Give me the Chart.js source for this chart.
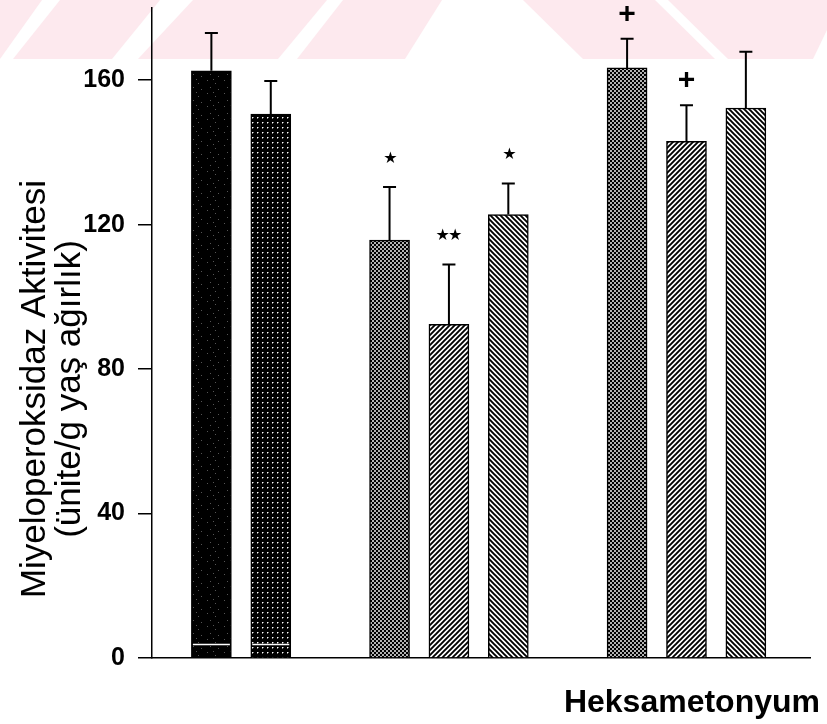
<!DOCTYPE html>
<html>
<head>
<meta charset="utf-8">
<script src="https://cdn.jsdelivr.net/npm/chart.js@4.4.1/dist/chart.umd.min.js"></script>
<style>
  html, body { margin: 0; padding: 0; background: #fff; }
  #wrap { width: 827px; height: 724px; }
</style>
</head>
<body>
<div id="wrap"><canvas id="c" width="827" height="724"></canvas></div>
<script>
// Position of each bar on the x axis (empty slots separate the three groups)
const barSlots = [0, 1, 3, 4, 5, 7, 8, 9];
// Myeloperoxidase activity, mean and error (unit/g wet weight)
const means  = [162.6, 150.6, 115.7, 92.4, 122.8, 163.4, 143.1, 152.3];
const errors = [10.5, 9.2, 14.7, 16.6, 8.6, 8.1, 10.0, 15.6];
// Significance marks above the error bars
const marks  = ['', '', '★', '★★', '★', '+', '+', ''];
const yTicks = [0, 40, 80, 120, 160];
const yTitle = ['Miyeloperoksidaz Aktivitesi', '(ünite/g yaş ağırlık)'];
const xTitle = 'Heksametonyum';
// Fill style of each bar
const fills  = ['solid', 'dots', 'mesh', 'fwd', 'back', 'mesh', 'fwd', 'back'];
// Thin white streak near the base of the first two bars
const streakValue = 3.9;
const streakBars = [0, 1];

const FONT = "'Liberation Sans', Arial, sans-serif";
const ctx = document.getElementById('c').getContext('2d');

function makeTile(w, h, draw) {
  const t = document.createElement('canvas');
  t.width = w; t.height = h;
  const g = t.getContext('2d');
  draw(g, w, h);
  return ctx.createPattern(t, 'repeat');
}

const patterns = {
  solid: makeTile(17, 13, (g, w, h) => {
    g.fillStyle = '#000'; g.fillRect(0, 0, w, h);
    g.fillStyle = '#555';
    [[3, 2], [11, 5], [6, 9], [14, 11], [9, 1]].forEach(([x, y]) => g.fillRect(x, y, 1, 1));
  }),
  dots: makeTile(5, 5, (g, w, h) => {
    g.fillStyle = '#000'; g.fillRect(0, 0, w, h);
    g.fillStyle = '#fff'; g.fillRect(2, 2, 1, 1);
    g.fillStyle = '#777'; g.fillRect(3, 2, 1, 1); g.fillRect(2, 3, 1, 1);
  }),
  mesh: makeTile(4, 4, (g, w, h) => {
    g.fillStyle = '#000'; g.fillRect(0, 0, w, h);
    g.fillStyle = '#fff';
    g.beginPath(); g.arc(1, 1, 0.95, 0, Math.PI * 2); g.fill();
    g.beginPath(); g.arc(3, 3, 0.95, 0, Math.PI * 2); g.fill();
  }),
  fwd: makeTile(5, 5, (g, w, h) => {
    g.fillStyle = '#fff'; g.fillRect(0, 0, w, h);
    g.strokeStyle = '#000'; g.lineWidth = 1.9;
    g.beginPath();
    g.moveTo(-1, h + 1); g.lineTo(w + 1, -1);
    g.moveTo(-1, 1); g.lineTo(1, -1);
    g.moveTo(w - 1, h + 1); g.lineTo(w + 1, h - 1);
    g.stroke();
  }),
  back: makeTile(5, 5, (g, w, h) => {
    g.fillStyle = '#fff'; g.fillRect(0, 0, w, h);
    g.strokeStyle = '#000'; g.lineWidth = 1.9;
    g.beginPath();
    g.moveTo(-1, -1); g.lineTo(w + 1, h + 1);
    g.moveTo(w - 1, -1); g.lineTo(w + 1, 1);
    g.moveTo(-1, h - 1); g.lineTo(1, h + 1);
    g.stroke();
  })
};

// Faint pink watermark band across the top of the page
const watermark = [
  [[0, 0], [42, 0], [0, 59]],
  [[60, 0], [160, 0], [112, 59], [13, 59]],
  [[193, 0], [327, 0], [278, 59], [138, 59]],
  [[343, 0], [442, 0], [405, 59], [297, 59]],
  [[523, 0], [655, 0], [715, 59], [583, 59]],
  [[668, 0], [827, 0], [827, 30], [813, 59], [728, 59]]
];

const backdrop = {
  id: 'backdrop',
  beforeDraw(chart) {
    const c = chart.ctx;
    c.save();
    c.fillStyle = '#fff';
    c.fillRect(0, 0, chart.width, chart.height);
    c.fillStyle = '#fde9ee';
    watermark.forEach(poly => {
      c.beginPath();
      poly.forEach(([x, y], i) => i ? c.lineTo(x, y) : c.moveTo(x, y));
      c.closePath();
      c.fill();
    });
    c.restore();
  }
};

const extras = {
  id: 'extras',
  afterDatasetsDraw(chart) {
    const c = chart.ctx;
    const y = chart.scales.y;
    const meta = chart.getDatasetMeta(0);
    c.save();
    // white streak in the dark bars
    c.strokeStyle = '#fff';
    c.lineWidth = 1.5;
    streakBars.forEach(i => {
      const b = meta.data[i];
      const py = Math.round(y.getPixelForValue(streakValue)) + 0.5;
      c.beginPath();
      c.moveTo(b.x - b.width / 2 + 1.5, py);
      c.lineTo(b.x + b.width / 2 - 1.5, py);
      c.stroke();
    });
    // error bars (upper only)
    c.strokeStyle = '#000';
    c.lineWidth = 2;
    meta.data.forEach((b, i) => {
      const top = y.getPixelForValue(means[i] + errors[i]);
      c.beginPath();
      c.moveTo(b.x, b.y);
      c.lineTo(b.x, top);
      c.moveTo(b.x - 6.5, top);
      c.lineTo(b.x + 6.5, top);
      c.stroke();
    });
    // significance marks
    c.fillStyle = '#000';
    c.textAlign = 'center';
    c.textBaseline = 'alphabetic';
    meta.data.forEach((b, i) => {
      const m = marks[i];
      if (!m) return;
      const star = m.includes('★');
      c.font = star ? "16px 'DejaVu Sans', sans-serif" : 'bold 30px ' + FONT;
      c.letterSpacing = star ? '-2px' : '0px';
      const top = y.getPixelForValue(means[i] + errors[i]);
      const cy = top - (star ? 30 : 26);
      const tm = c.measureText(m);
      const base = cy + (tm.actualBoundingBoxAscent - tm.actualBoundingBoxDescent) / 2;
      c.fillText(m, b.x + (star && m.length > 1 ? -1 : 0), base);
    });
    c.letterSpacing = '0px';
    c.restore();
  },
  afterDraw(chart) {
    const c = chart.ctx;
    const a = chart.chartArea;
    c.save();
    c.fillStyle = '#000';
    // y axis title, two rotated lines
    c.font = '35px ' + FONT;
    c.textAlign = 'center';
    c.textBaseline = 'middle';
    const cy = 389;
    [35, 70].forEach((x, i) => {
      c.save();
      c.translate(x, cy);
      c.rotate(-Math.PI / 2);
      c.fillText(yTitle[i], 0, 0);
      c.restore();
    });
    // x axis title at the lower right
    c.font = 'bold 32px ' + FONT;
    c.textAlign = 'right';
    c.textBaseline = 'alphabetic';
    c.fillText(xTitle, a.right + 10, a.bottom + 54);
    c.restore();
  }
};

new Chart(ctx, {
  type: 'bar',
  data: {
    datasets: [{
      data: barSlots.map((s, i) => ({ x: s, y: means[i] })),
      backgroundColor: fills.map(f => patterns[f]),
      borderColor: '#000',
      borderWidth: 1.5,
      barThickness: 40
    }]
  },
  options: {
    responsive: false,
    animation: false,
    devicePixelRatio: 1,
    layout: { padding: { top: 8, right: 17, left: 0, bottom: 0 } },
    plugins: { legend: { display: false }, tooltip: { enabled: false } },
    scales: {
      x: {
        type: 'linear',
        min: -1,
        max: 10.08,
        offset: false,
        grid: { display: false, offset: false },
        ticks: { display: false },
        border: { display: true, color: '#000', width: 1.5 },
        afterFit(s) { s.height = 66; s.paddingLeft = 0; s.paddingRight = 0; }
      },
      y: {
        min: 0,
        max: 180,
        afterBuildTicks(s) { s.ticks = yTicks.map(v => ({ value: v })); },
        grid: { drawOnChartArea: false, drawTicks: true, tickLength: 14, color: '#000', lineWidth: 1.5 },
        border: { display: true, color: '#000', width: 1.5 },
        ticks: {
          color: '#000',
          padding: 13,
          font: { family: FONT, size: 25, weight: 'bold' }
        },
        afterFit(s) { s.width = 152; s.paddingTop = 0; s.paddingBottom = 0; }
      }
    }
  },
  plugins: [backdrop, extras]
});
</script>
</body>
</html>
